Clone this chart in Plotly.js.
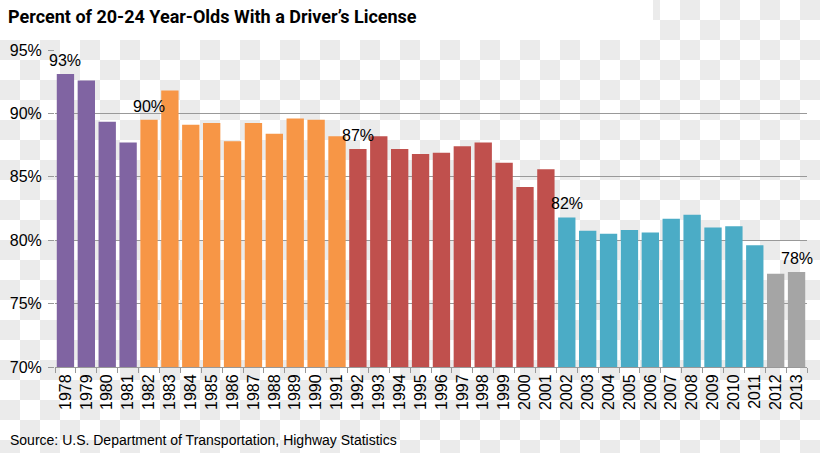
<!DOCTYPE html>
<html>
<head>
<meta charset="utf-8">
<script src="https://cdn.plot.ly/plotly-3.0.1.min.js"></script>
<style>
  html, body { margin:0; padding:0; }
  body {
    width:820px; height:453px; overflow:hidden; position:relative;
    background-color:#fff;
    background-image: conic-gradient(#fff 25%, #ebebeb 0 50%, #fff 0 75%, #ebebeb 0);
    background-size:40px 40px;
  }
  #titlebox { position:absolute; left:0; top:0; width:653px; height:40px; background:#fff; }
  #chart { position:absolute; left:0; top:0; width:820px; height:453px; }
</style>
</head>
<body>
<div id="titlebox"></div>
<div id="chart"></div>
<script>
const years = ['1978','1979','1980','1981','1982','1983','1984','1985','1986','1987','1988','1989','1990','1991',
  '1992','1993','1994','1995','1996','1997','1998','1999','2000','2001',
  '2002','2003','2004','2005','2006','2007','2008','2009','2010','2011','2012','2013'];
const pctLicensed = [93.1, 92.6, 89.35, 87.7, 89.5, 91.8, 89.1, 89.25, 87.8, 89.25, 88.4, 89.6, 89.5, 88.2,
  87.2, 88.2, 87.2, 86.8, 86.9, 87.4, 87.7, 86.1, 84.2, 85.6,
  81.8, 80.75, 80.5, 80.8, 80.6, 81.7, 82.0, 81.0, 81.1, 79.6, 77.35, 77.5];
const groupStarts = ['1978','1982','1992','2002','2012'];
const labelYears = ['1978','1982','1992','2002','2013'];
const labelTexts = ['93%','90%','87%','82%','78%'];
const yTickVals = [70, 75, 80, 85, 90, 95];
const yTickText = ['70%','75%','80%','85%','90%','95%'];

const palette = ['#8064a2', '#f79646', '#c0504d', '#4bacc6', '#a5a5a5'];
const colors = years.map(y => {
  let g = 0;
  groupStarts.forEach((s, i) => { if (y >= s) g = i; });
  return palette[g];
});

const trace = {
  type: 'bar',
  x: years,
  y: pctLicensed,
  base: 0,
  marker: { color: colors, line: { width: 0 } },
  hoverinfo: 'x+y'
};

const annotations = labelYears.map((yr, i) => {
  const idx = years.indexOf(yr);
  return {
    x: idx, y: pctLicensed[idx], xref: 'x', yref: 'y',
    text: labelTexts[i], showarrow: false, yanchor: 'bottom', yshift: 3,
    font: { family: 'Liberation Sans, Arial, sans-serif', size: 16, color: '#000' }
  };
});
annotations.push({
  xref: 'paper', yref: 'paper', x: 0, y: 0, xanchor: 'left', yanchor: 'middle',
  xshift: -47, yshift: -73,
  text: 'Source: U.S. Department of Transportation, Highway Statistics', showarrow: false,
  font: { family: 'Liberation Sans, Arial, sans-serif', size: 14, color: '#000' }
});

const layout = {
  width: 820, height: 453,
  margin: { l: 55, r: 13, t: 50, b: 86 },
  paper_bgcolor: 'rgba(0,0,0,0)',
  plot_bgcolor: 'rgba(0,0,0,0)',
  showlegend: false,
  bargap: 0.17,
  title: {
    text: '<b>Percent of 20-24 Year-Olds With a Driver\u2019s License</b>',
    x: 8/820, xanchor: 'left', xref: 'container',
    y: 1 - 17/453, yanchor: 'middle', yref: 'container',
    font: { family: 'Roboto, sans-serif', size: 18, color: '#000' }
  },
  xaxis: {
    type: 'category',
    range: [-0.5, years.length - 0.5],
    autorange: false,
    tickangle: -90,
    tickson: 'boundaries',
    ticks: 'outside', ticklen: 5, tickcolor: '#999', tickwidth: 1,
    showline: true, linecolor: '#999', linewidth: 1,
    showgrid: false,
    tickfont: { family: 'Liberation Sans, Arial, sans-serif', size: 16, color: '#000' },
    fixedrange: true
  },
  yaxis: {
    range: [70, 95],
    autorange: false,
    tickvals: yTickVals, ticktext: yTickText,
    ticks: 'outside', ticklen: 6, tickcolor: '#999',
    ticklabelstandoff: 3,
    showgrid: true, gridcolor: '#999', gridwidth: 1,
    zeroline: false, showline: false,
    tickfont: { family: 'Liberation Sans, Arial, sans-serif', size: 16, color: '#000' },
    fixedrange: true
  },
  annotations: annotations
};

Plotly.newPlot('chart', [trace], layout, { displayModeBar: false, staticPlot: true });
</script>
</body>
</html>
